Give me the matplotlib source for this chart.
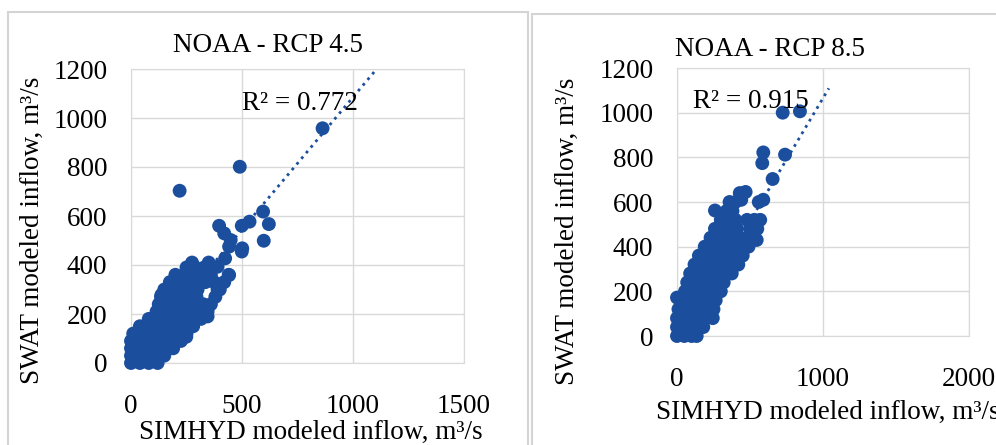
import matplotlib.pyplot as plt
from matplotlib.patches import Rectangle

plt.rcParams['font.family'] = ['Liberation Serif', 'DejaVu Serif']

# NOAA - RCP 4.5 (SIMHYD vs SWAT inflow, m3/s)
x45 = [0, 40, 80, 120,
       0, 40, 80, 120, 150,
       0, 40, 80, 120, 160, 190,
       0, 40, 80, 120, 160, 200, 225,
       10, 50, 90, 130, 170, 210, 250,
       40, 80, 120, 160, 200, 240, 280,
       80, 120, 160, 200, 240, 280, 315,
       115, 155, 195, 235, 275, 315, 345,
       125, 165, 205, 245, 285, 325, 360,
       135, 175, 215, 255, 295, 380,
       150, 190, 230, 270, 300, 390,
       175, 215, 255, 295, 335, 375, 420,
       200, 240, 280, 320, 360, 440,
       250, 290, 330,
       275, 350,
       390, 424, 397, 420, 449, 442, 501, 499, 499, 534, 595, 621, 598, 219, 490, 863,
       137, 249, 345, 338, 442, 400]
y45 = [0, 0, 0, 0,
       30, 30, 30, 30, 30,
       60, 60, 60, 60, 60, 60,
       90, 90, 90, 90, 90, 90, 90,
       120, 120, 120, 120, 120, 120, 120,
       150, 150, 150, 150, 150, 150, 150,
       180, 180, 180, 180, 180, 180, 180,
       210, 210, 210, 210, 210, 210, 210,
       240, 240, 240, 240, 240, 240, 240,
       270, 270, 270, 270, 270, 270,
       300, 300, 300, 300, 300, 300,
       330, 330, 330, 330, 330, 330, 330,
       360, 360, 360, 360, 360, 360,
       390, 390, 390,
       410, 410,
       393, 427, 560, 529, 502, 475, 468, 455, 560, 577, 618, 567, 499, 703, 801, 958,
       278, 107, 190, 196, 359, 300]

# NOAA - RCP 8.5
x85 = [0, 50, 100, 135,
       0, 50, 100, 150, 180,
       0, 50, 100, 150, 200, 245,
       10, 60, 110, 160, 210, 250,
       20, 70, 120, 170, 220, 265,
       55, 105, 155, 205, 255, 300,
       70, 120, 170, 220, 270, 320,
       90, 140, 190, 240, 290, 340, 375,
       120, 170, 220, 270, 320, 370, 420,
       150, 200, 250, 300, 350, 400, 450,
       190, 240, 290, 340, 390, 440, 490,
       230, 280, 330, 380, 430, 480, 530,
       260, 310, 360, 410, 500, 550,
       300, 350, 400, 480, 530, 570,
       260, 340, 380,
       360, 400, 440, 560,
       430, 470,
       0, 591, 546, 655, 584, 591, 740, 724, 842]
y85 = [0, 0, 0, 0,
       40, 40, 40, 40, 40,
       80, 80, 80, 80, 80, 80,
       120, 120, 120, 120, 120, 120,
       160, 160, 160, 160, 160, 160,
       200, 200, 200, 200, 200, 200,
       240, 240, 240, 240, 240, 240,
       280, 280, 280, 280, 280, 280, 280,
       320, 320, 320, 320, 320, 320, 320,
       360, 360, 360, 360, 360, 360, 360,
       400, 400, 400, 400, 400, 400, 400,
       440, 440, 440, 440, 440, 440, 440,
       480, 480, 480, 480, 480, 480,
       520, 520, 520, 520, 520, 520,
       562, 560, 560,
       600, 600, 610, 600,
       640, 645,
       172, 610, 430, 703, 774, 822, 812, 1000, 1006]

# trendlines (slope, intercept, x range)
fit45 = (1.08, 5, 0, 1100)
fit85 = (1.10, -35, 30, 1040)

blue = '#1B4F9E'
grid = '#d9d9d9'
fs = 19.5

fig = plt.figure(figsize=(9.96, 4.45), dpi=100)

# chart frames
fig.patches.append(Rectangle((8 / 996, -0.1), 520 / 996, 1.1 - 12 / 445, transform=fig.transFigure,
                             fill=False, edgecolor='#d4d4d4', linewidth=1.5, zorder=0))
fig.patches.append(Rectangle((532 / 996, -0.1), 0.5, 1.1 - 14 / 445, transform=fig.transFigure,
                             fill=False, edgecolor='#d4d4d4', linewidth=1.5, zorder=0))


def panel(rect, xs, ys, fit, xmax, xticks, title, tpos, r2, rpos, xlab_pos, ylab_pos):
    ax = fig.add_axes(rect)
    ax.scatter(xs, ys, s=100, color=blue, edgecolors='none', zorder=3, clip_on=False)
    a, b, x0, x1 = fit
    ax.plot([x0, x1], [a * x0 + b, a * x1 + b], ':', color=blue, linewidth=2, zorder=4)
    ax.set_xlim(0, xmax)
    ax.set_ylim(0, 1200)
    ax.set_xticks(xticks)
    ax.set_yticks(range(0, 1201, 200))
    ax.grid(True, color=grid, linewidth=1)
    ax.set_axisbelow(True)
    for s in ax.spines.values():
        s.set_color(grid)
    ax.tick_params(length=0, labelsize=fs)
    ax.tick_params(axis='x', pad=22)
    ax.tick_params(axis='y', pad=17)
    ax.set_xlabel('SIMHYD modeled inflow, m³/s', fontsize=fs, va='center')
    ax.xaxis.set_label_coords(*xlab_pos)
    ax.set_ylabel('SWAT modeled inflow, m³/s', fontsize=fs, va='center')
    ax.yaxis.set_label_coords(*ylab_pos)
    fig.text(tpos[0] / 996, 1 - tpos[1] / 445, title, fontsize=fs, ha='center', va='center')
    fig.text(rpos[0] / 996, 1 - rpos[1] / 445, r2, fontsize=fs, ha='left', va='center')
    return ax


panel([131 / 996, 82 / 445, 333 / 996, 294 / 445], x45, y45, fit45, 1500, [0, 500, 1000, 1500],
      'NOAA - RCP 4.5', (268, 45), 'R² = 0.772', (242, 103), (0.541, -0.235), (-0.297, 0.452))
panel([677 / 996, 109 / 445, 292 / 996, 268 / 445], x85, y85, fit85, 2000, [0, 1000, 2000],
      'NOAA - RCP 8.5', (770, 49), 'R² = 0.915', (693, 102), (0.517, -0.284), (-0.377, 0.392))

fig.savefig('out.png', dpi=100)
